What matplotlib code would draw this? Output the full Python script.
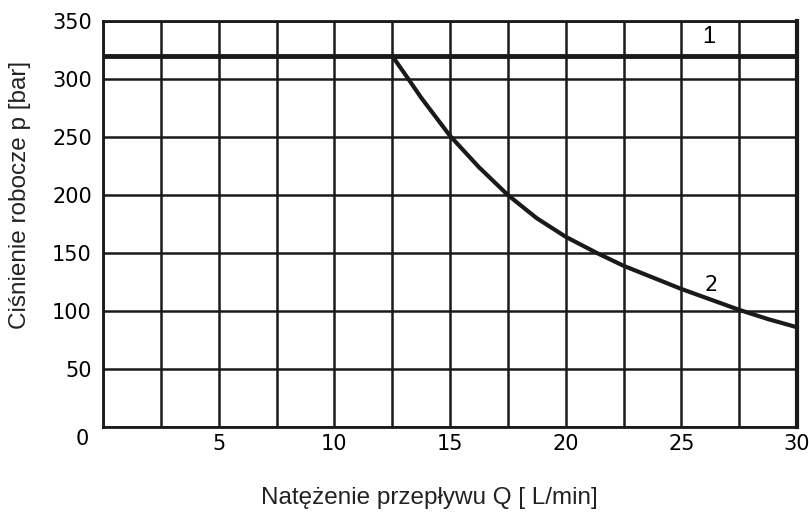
import matplotlib
matplotlib.use('Agg')
import matplotlib.pyplot as plt

# krzywa 1 - stale cisnienie, krzywa 2 - ograniczenie mocy
q1 = [0, 30]
p1 = [320, 320]
q2 = [12.5, 13.2, 13.75, 15, 16.25, 17.5, 18.75, 20, 21.35, 22.5, 23.75, 25, 26.25, 27.5, 28.75, 30]
p2 = [320, 300, 284, 251, 224, 200, 180, 164, 150, 139, 129, 119, 110, 101, 93, 86]

xgrid = [2.5 * i for i in range(13)]
ygrid = [50 * i for i in range(8)]
xticks = [5, 10, 15, 20, 25, 30]
yticks = [50, 100, 150, 200, 250, 300, 350]

tick_font = dict(family='DejaVu Sans', size=15)
label_font = dict(family='Liberation Sans', size=17.5)

fig = plt.figure(figsize=(8.09, 5.13), dpi=100)
ax = fig.add_axes([103 / 809, 86 / 513, 694 / 809, 406 / 513])
ax.set_xlim(0, 30)
ax.set_ylim(0, 350)

for x in xgrid:
    ax.axvline(x, color='#1a1a1a', lw=1.8, zorder=1)
for y in ygrid:
    ax.axhline(y, color='#1a1a1a', lw=1.8, zorder=1)

ax.plot(q1, p1, color='#1a1a1a', lw=3.5, solid_capstyle='butt', zorder=3)
ax.plot(q2, p2, color='#1a1a1a', lw=3.0, solid_joinstyle='round', zorder=3)

ax.text(26.2, 336, '1', ha='center', va='center', fontsize=17, family='Liberation Sans')
ax.text(26.3, 122, '2', ha='center', va='center', **tick_font)

for s in ax.spines.values():
    s.set_linewidth(2)
    s.set_color('#1a1a1a')
ax.spines['right'].set_linewidth(3)

ax.set_xticks(xticks)
ax.set_yticks(yticks)
ax.set_xticklabels([str(v) for v in xticks], **tick_font)
ax.set_yticklabels([str(v) for v in yticks], **tick_font)
ax.tick_params(axis='y', length=0, pad=8)
ax.tick_params(axis='x', length=0, pad=5)
ax.text(-0.6, -10, '0', ha='right', va='center', **tick_font)

ax.set_xlabel('Natężenie przepływu Q [ L/min]', color='#222222', **label_font)
ax.set_ylabel('Ciśnienie robocze p [bar]', color='#222222', **label_font)
ax.xaxis.set_label_coords(0.47, -0.148)
ax.yaxis.set_label_coords(-0.104, 0.571)

fig.savefig('out.png', dpi=100)
